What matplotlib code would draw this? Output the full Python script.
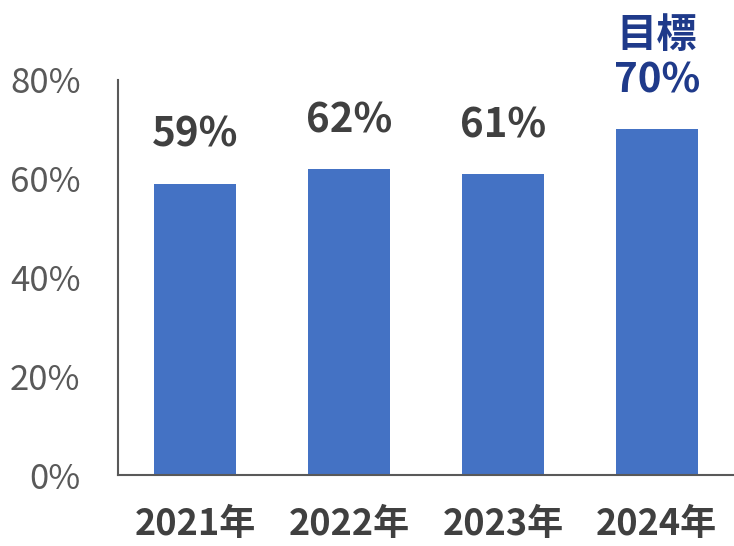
import matplotlib
matplotlib.use('Agg')
import matplotlib.pyplot as plt
from matplotlib.ticker import FuncFormatter

plt.rcParams['font.family'] = ['Noto Sans CJK JP', 'DejaVu Sans']

# データ
years = ['2021年', '2022年', '2023年', '2024年']
rates = [59, 62, 61, 70]
bar_labels = ['59%', '62%', '61%', '目標\n70%']
label_colors = ['#404040', '#404040', '#404040', '#1F3A8A']
y_ticks = [0, 20, 40, 60, 80]

fig = plt.figure(figsize=(7.34, 5.46), dpi=100)
ax = fig.add_axes([0.1608, 0.130, 0.839, 0.7235])

x = range(len(years))
bars = ax.bar(x, rates, width=0.53, color='#4472C4')

for bar, val, lab, col in zip(bars, rates, bar_labels, label_colors):
    ax.annotate(lab, (bar.get_x() + bar.get_width() / 2, val),
                xytext=(0, 20), textcoords='offset points',
                ha='center', va='bottom', fontsize=29, fontweight='bold',
                color=col, linespacing=1.15, annotation_clip=False)

ax.set_xlim(-0.5, 3.5)
ax.set_ylim(0, 80)
ax.set_xticks(list(x))
ax.set_xticklabels(years, fontsize=26, fontweight='bold', color='#404040')
ax.set_yticks(y_ticks)
ax.yaxis.set_major_formatter(FuncFormatter(lambda v, p: f'{v:.0f}%'))
ax.tick_params(axis='y', length=0, pad=27, labelsize=25, labelcolor='#595959')
ax.tick_params(axis='x', length=0, pad=22)

for s in ['top', 'right']:
    ax.spines[s].set_visible(False)
for s in ['left', 'bottom']:
    ax.spines[s].set_color('#595959')
    ax.spines[s].set_linewidth(1.5)

fig.savefig('out.png', dpi=100)
